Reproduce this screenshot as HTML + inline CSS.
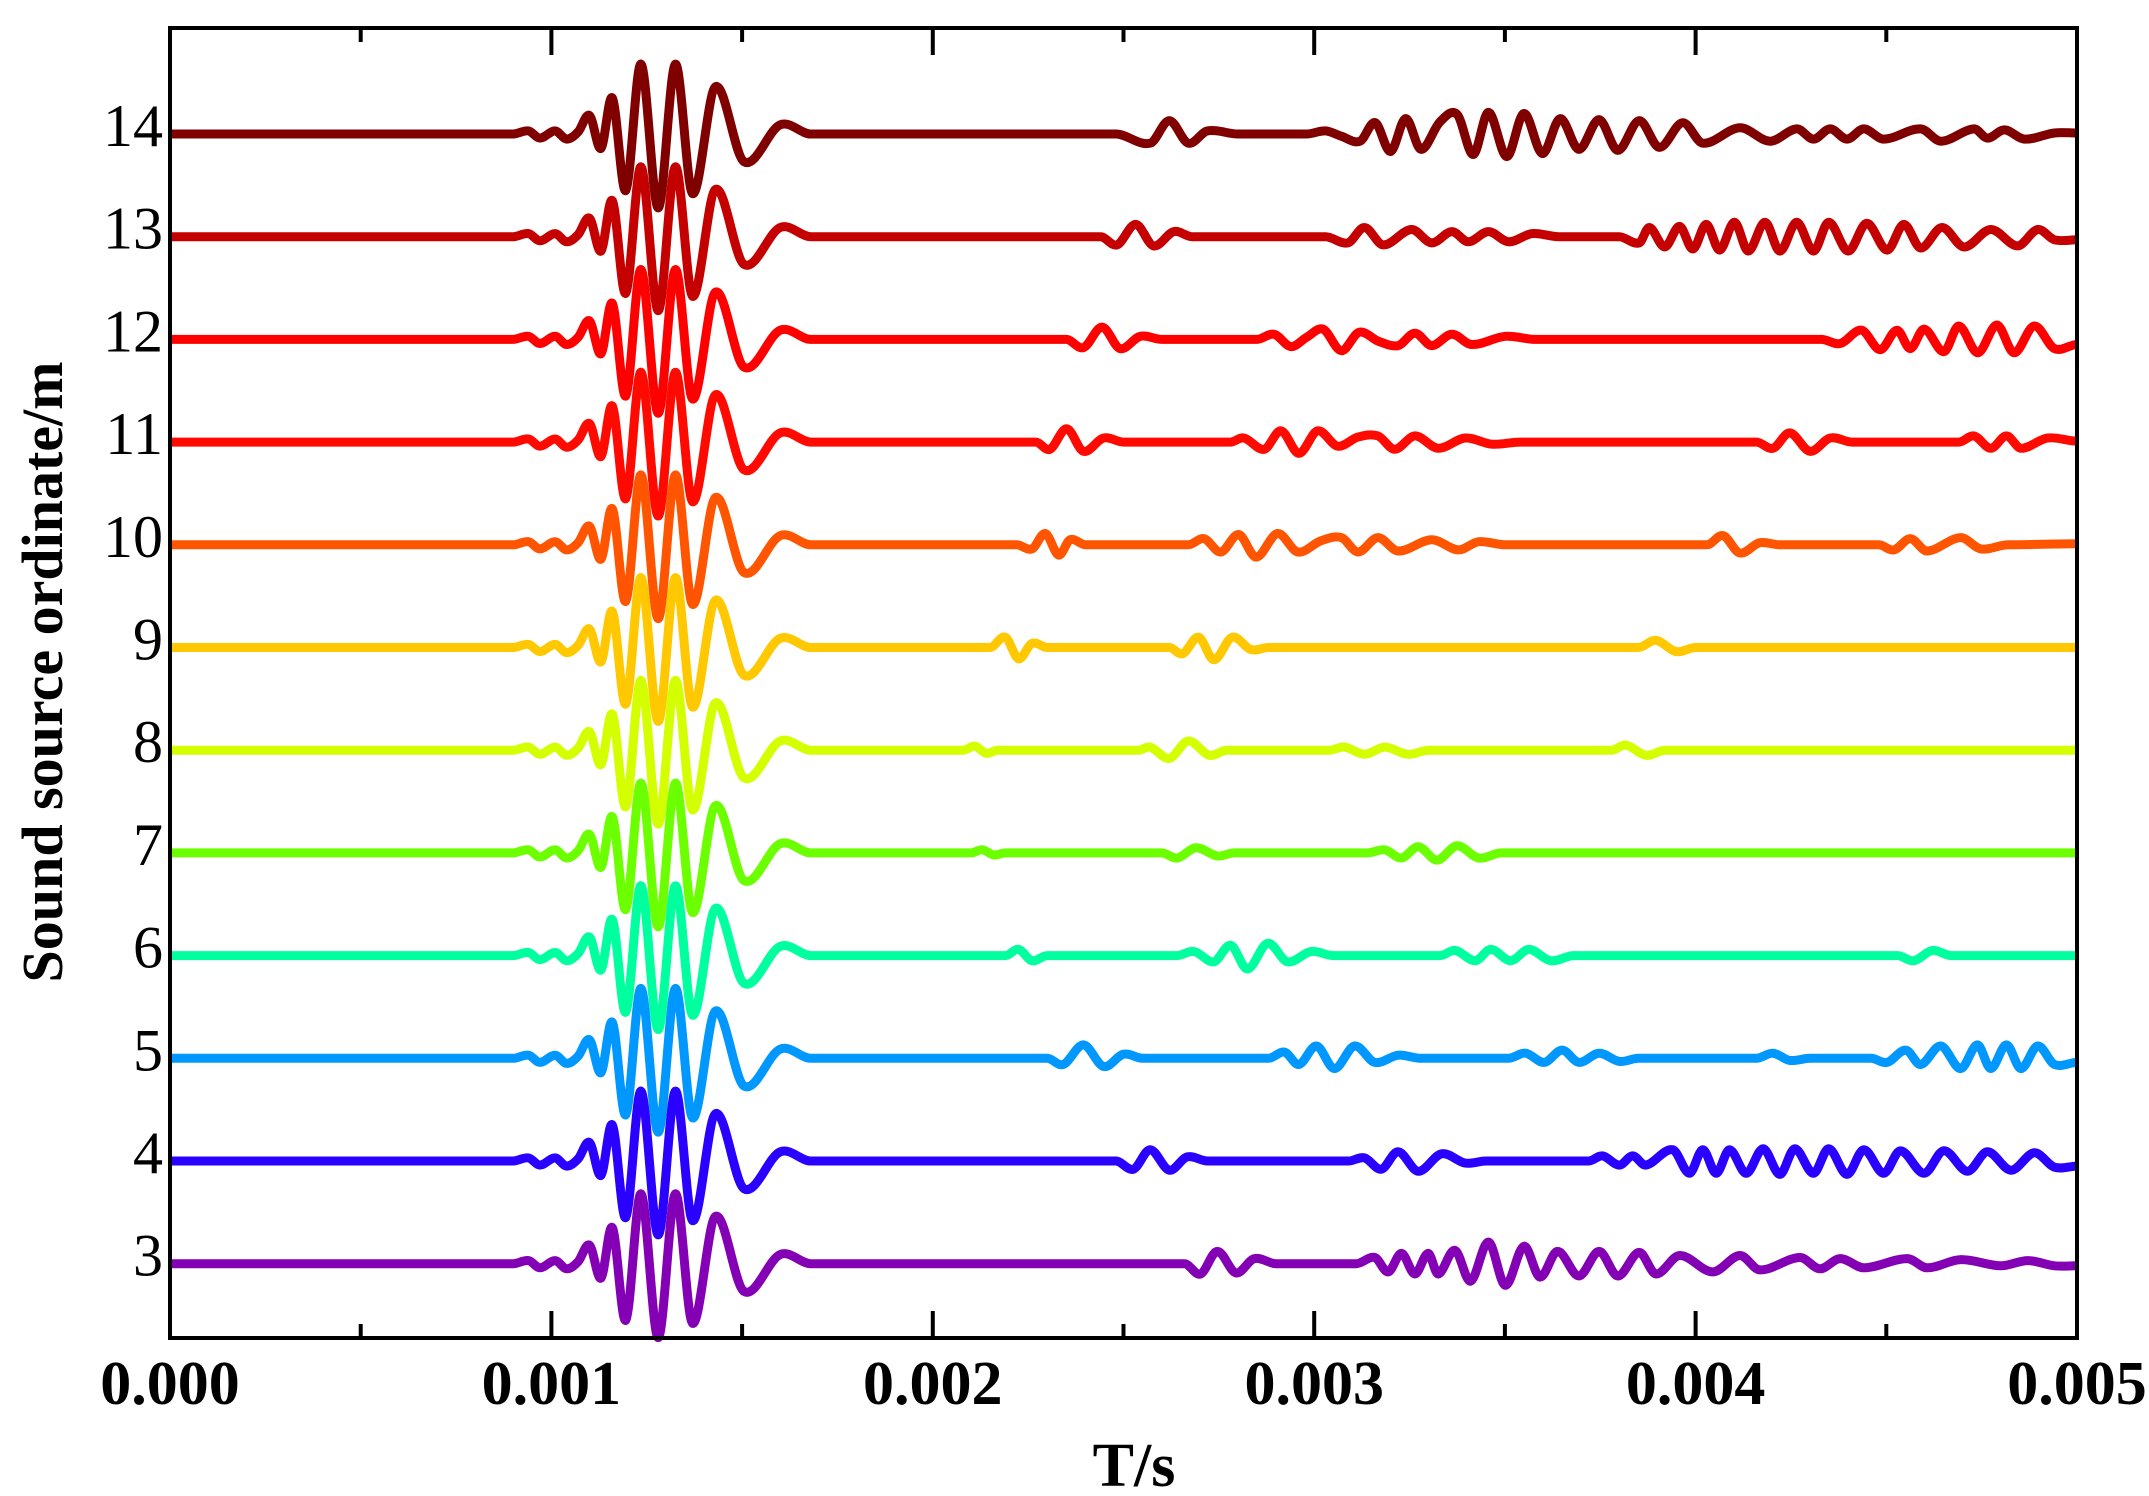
<!DOCTYPE html>
<html><head><meta charset="utf-8"><style>
html,body{margin:0;padding:0;background:#fff}
svg{display:block}
text{font-family:"Liberation Serif","Times New Roman",serif}
</style></head><body>
<svg id="chart" width="2149" height="1496" viewBox="0 0 2149 1496" xmlns="http://www.w3.org/2000/svg">
<g id="traces"></g>
<g id="axes"></g>
</svg>
<script>
// ---- data ----
const traceIds = [14,13,12,11,10,9,8,7,6,5,4,3];
const traceColors = ["#800000","#c40000","#ff0000","#ff0a00","#ff5500","#ffc800","#d4ff00","#6cff00","#00ff9f","#0098ff","#2a00ff","#8400b4"];
// common direct pulse: [t(ms), amplitude in trace-spacing units]
const pulse = [[0.90,0],[0.94,0.03],[0.97,-0.04],[1.01,0.03],[1.04,-0.05],[1.07,0.02],[1.10,0.18],[1.13,-0.14],[1.16,0.35],[1.195,-0.55],[1.235,0.68],[1.28,-0.72],[1.325,0.68],[1.37,-0.58],[1.43,0.46],[1.505,-0.27],[1.60,0.09],[1.68,0]];
// later arrivals per trace
const late14 = [[2.48,0],[2.57,-0.09],[2.62,0.13],[2.67,-0.09],[2.72,0.03],[2.8,0],[2.98,0],[3.03,0.03],[3.07,-0.02],[3.12,-0.07],[3.16,0.11],[3.2,-0.17],[3.24,0.15],[3.28,-0.15],[3.33,0.12],[3.375,0.19],[3.417,-0.2],[3.457,0.21],[3.505,-0.22],[3.55,0.2],[3.598,-0.19],[3.645,0.15],[3.694,-0.15],[3.747,0.14],[3.796,-0.16],[3.852,0.13],[3.905,-0.13],[3.966,0.11],[4.019,-0.09],[4.116,0.06],[4.195,-0.07],[4.265,0.05],[4.309,-0.05],[4.353,0.05],[4.397,-0.05],[4.441,0.05],[4.493,-0.05],[4.59,0.05],[4.643,-0.07],[4.73,0.05],[4.765,-0.04],[4.81,0.04],[4.862,-0.05],[4.941,0.01],[5,0.01]];
const late13 = [[2.44,0],[2.483,-0.08],[2.532,0.12],[2.579,-0.09],[2.632,0.05],[2.68,0],[3.03,0],[3.088,-0.06],[3.132,0.09],[3.181,-0.08],[3.255,0.07],[3.308,-0.06],[3.361,0.05],[3.404,-0.05],[3.457,0.05],[3.51,-0.05],[3.571,0.03],[3.64,0],[3.8,0],[3.852,-0.06],[3.879,0.09],[3.919,-0.1],[3.958,0.1],[3.993,-0.12],[4.028,0.12],[4.063,-0.13],[4.102,0.14],[4.138,-0.14],[4.182,0.14],[4.221,-0.14],[4.265,0.14],[4.309,-0.14],[4.349,0.14],[4.4,-0.14],[4.449,0.13],[4.502,-0.13],[4.546,0.12],[4.59,-0.11],[4.646,0.09],[4.704,-0.1],[4.774,0.07],[4.844,-0.09],[4.897,0.07],[4.941,-0.03],[5,-0.03]];
const late12 = [[2.35,0],[2.395,-0.08],[2.444,0.12],[2.491,-0.09],[2.544,0.03],[2.6,0],[2.85,0],[2.895,0.05],[2.939,-0.07],[2.98,0.02],[3.023,0.1],[3.071,-0.11],[3.118,0.07],[3.17,-0.02],[3.22,-0.06],[3.264,0.06],[3.308,-0.06],[3.361,0.05],[3.413,-0.05],[3.501,0.03],[3.58,0],[4.33,0],[4.379,-0.04],[4.435,0.09],[4.484,-0.1],[4.528,0.09],[4.563,-0.09],[4.599,0.1],[4.651,-0.12],[4.69,0.13],[4.74,-0.13],[4.79,0.14],[4.835,-0.13],[4.888,0.13],[4.941,-0.09],[5,-0.05]];
const late11 = [[2.27,0],[2.307,-0.07],[2.351,0.13],[2.395,-0.09],[2.448,0.04],[2.5,0],[2.78,0],[2.816,0.04],[2.869,-0.07],[2.913,0.11],[2.96,-0.11],[3.009,0.11],[3.062,-0.04],[3.115,0.05],[3.167,0.06],[3.211,-0.07],[3.264,0.06],[3.325,-0.06],[3.396,0.04],[3.466,-0.02],[3.54,0],[4.16,0],[4.203,-0.06],[4.247,0.09],[4.3,-0.09],[4.353,0.04],[4.41,0],[4.69,0],[4.73,0.06],[4.774,-0.06],[4.815,0.06],[4.853,-0.06],[4.923,0.04],[5,0.01]];
const late10 = [[2.22,0],[2.26,-0.04],[2.295,0.11],[2.33,-0.1],[2.36,0.05],[2.4,0],[2.67,0],[2.711,0.06],[2.755,-0.07],[2.802,0.1],[2.848,-0.12],[2.904,0.11],[2.957,-0.07],[3.018,0.04],[3.071,0.07],[3.115,-0.07],[3.167,0.07],[3.22,-0.06],[3.308,0.05],[3.378,-0.05],[3.431,0.03],[3.5,0],[4.03,0],[4.072,0.09],[4.116,-0.08],[4.168,0.02],[4.22,0],[4.48,0],[4.52,-0.05],[4.563,0.06],[4.607,-0.06],[4.695,0.07],[4.748,-0.04],[4.82,0],[5,0.01]];
const late9 = [[2.15,0],[2.19,0.1],[2.225,-0.11],[2.26,0.04],[2.3,0],[2.62,0],[2.655,-0.06],[2.697,0.1],[2.737,-0.12],[2.785,0.1],[2.834,-0.02],[2.88,0],[3.85,0],[3.896,0.07],[3.949,-0.04],[4.0,0],[5,0]];
const late8 = [[2.08,0],[2.11,0.04],[2.14,-0.03],[2.17,0],[2.54,0],[2.57,0.03],[2.62,-0.08],[2.67,0.09],[2.725,-0.05],[2.77,0],[3.04,0],[3.08,0.03],[3.132,-0.04],[3.185,0.03],[3.246,-0.04],[3.3,0],[3.78,0],[3.817,0.05],[3.87,-0.05],[3.92,0],[5,0]];
const late7 = [[2.1,0],[2.13,0.03],[2.16,-0.02],[2.19,0],[2.6,0],[2.641,-0.05],[2.69,0.05],[2.746,-0.03],[2.79,0],[3.14,0],[3.185,0.03],[3.229,-0.05],[3.273,0.06],[3.322,-0.07],[3.375,0.07],[3.431,-0.05],[3.49,0],[5,0]];
const late6 = [[2.19,0],[2.225,0.06],[2.26,-0.05],[2.3,0],[2.64,0],[2.685,0.04],[2.737,-0.06],[2.781,0.1],[2.825,-0.13],[2.878,0.12],[2.93,-0.06],[2.992,0.04],[3.05,0],[3.33,0],[3.37,0.05],[3.422,-0.05],[3.463,0.06],[3.515,-0.05],[3.563,0.06],[3.62,-0.05],[3.68,0],[4.53,0],[4.572,-0.05],[4.621,0.05],[4.67,0],[5,0]];
const late5 = [[2.3,0],[2.342,-0.06],[2.395,0.13],[2.448,-0.08],[2.5,0.04],[2.55,0],[2.88,0],[2.922,0.06],[2.96,-0.06],[3.006,0.12],[3.053,-0.1],[3.106,0.12],[3.159,-0.04],[3.22,0.03],[3.28,0],[3.51,0],[3.554,0.05],[3.603,-0.04],[3.65,0.08],[3.694,-0.04],[3.747,0.05],[3.8,-0.03],[3.85,0],[4.16,0],[4.203,0.05],[4.247,-0.02],[4.3,0],[4.46,0],[4.502,-0.04],[4.551,0.08],[4.59,-0.06],[4.643,0.12],[4.695,-0.1],[4.739,0.13],[4.774,-0.1],[4.815,0.13],[4.853,-0.1],[4.897,0.12],[4.941,-0.06],[5,-0.04]];
const late4 = [[2.48,0],[2.526,-0.08],[2.57,0.11],[2.62,-0.09],[2.667,0.04],[2.72,0],[3.09,0],[3.132,0.03],[3.176,-0.08],[3.22,0.09],[3.273,-0.1],[3.334,0.07],[3.396,-0.02],[3.45,0],[3.72,0],[3.756,0.05],[3.8,-0.04],[3.835,0.05],[3.87,-0.04],[3.94,0.11],[3.984,-0.12],[4.019,0.11],[4.054,-0.12],[4.089,0.11],[4.133,-0.12],[4.177,0.12],[4.221,-0.13],[4.26,0.12],[4.309,-0.12],[4.349,0.12],[4.397,-0.13],[4.441,0.11],[4.493,-0.12],[4.537,0.1],[4.599,-0.12],[4.651,0.1],[4.713,-0.1],[4.765,0.09],[4.827,-0.09],[4.888,0.08],[4.941,-0.06],[5,-0.05]];
const late3 = [[2.66,0],[2.702,-0.1],[2.746,0.12],[2.795,-0.09],[2.843,0.05],[2.9,0],[3.11,0],[3.159,0.06],[3.194,-0.08],[3.229,0.1],[3.264,-0.1],[3.299,0.1],[3.325,-0.1],[3.369,0.13],[3.41,-0.17],[3.457,0.21],[3.501,-0.21],[3.55,0.17],[3.592,-0.13],[3.638,0.12],[3.694,-0.12],[3.747,0.12],[3.796,-0.12],[3.852,0.11],[3.896,-0.1],[3.958,0.08],[4.045,-0.08],[4.116,0.08],[4.168,-0.06],[4.274,0.06],[4.326,-0.05],[4.379,0.05],[4.441,-0.04],[4.555,0.05],[4.607,-0.04],[4.695,0.04],[4.8,-0.02],[4.871,0.03],[4.941,-0.02],[5,-0.02]];
const lateArrivals = [late14,late13,late12,late11,late10,late9,late8,late7,late6,late5,late4,late3];
const xTickValues = [0,0.5,1,1.5,2,2.5,3,3.5,4,4.5,5];
const xTickLabels = ["0.000","0.001","0.002","0.003","0.004","0.005"];
const yTickLabels = ["14","13","12","11","10","9","8","7","6","5","4","3"];

// ---- layout ----
const L=170,R=2077,T=28,B=1338;
const xS = t => L + t/5*(R-L);
const yS = v => 134 + (14-v)*102.7;
const NS="http://www.w3.org/2000/svg";
function mk(tag,attrs,parent){const e=document.createElementNS(NS,tag);for(const k in attrs)e.setAttribute(k,attrs[k]);parent.appendChild(e);return e;}
const gT=document.getElementById('traces'), gA=document.getElementById('axes');

function pathFrom(pts){
  const n=pts.length, m=new Array(n).fill(0), GAP=60;
  for(let i=1;i<n-1;i++){
    const dl=pts[i][0]-pts[i-1][0], dr=pts[i+1][0]-pts[i][0];
    if(dl>GAP||dr>GAP) m[i]=0;
    else m[i]=(pts[i+1][1]-pts[i-1][1])/(pts[i+1][0]-pts[i-1][0]);
  }
  let d="M"+pts[0][0].toFixed(1)+","+pts[0][1].toFixed(1);
  for(let i=0;i<n-1;i++){
    const p1=pts[i],p2=pts[i+1],dx=(p2[0]-p1[0])/3;
    d+="C"+(p1[0]+dx).toFixed(1)+","+(p1[1]+m[i]*dx).toFixed(1)+" "+(p2[0]-dx).toFixed(1)+","+(p2[1]-m[i+1]*dx).toFixed(1)+" "+p2[0].toFixed(1)+","+p2[1].toFixed(1);
  }
  return d;
}
traceIds.forEach((id,i)=>{
  const pts=[[0,0]].concat(pulse,lateArrivals[i]);
  const last=pts[pts.length-1]; if(last[0]<5) pts.push([5,0]);
  const px=pts.map(p=>[xS(p[0]),yS(id+p[1])]);
  const p=mk('path',{d:pathFrom(px),fill:'none',stroke:traceColors[i],'stroke-width':9,'stroke-linejoin':'round','stroke-linecap':'butt'},gT);
  
  
});
// frame
const fr=mk('rect',{x:L,y:T,width:R-L,height:B-T,fill:'none',stroke:'#000','stroke-width':4},gA);


xTickValues.forEach((v,i)=>{
  const len=(i%2===0)?27:14, x=xS(v);
  const t1=mk('line',{x1:x,y1:B,x2:x,y2:B-len,stroke:'#000','stroke-width':4},gA);
  
  
  const t2=mk('line',{x1:x,y1:T,x2:x,y2:T+len,stroke:'#000','stroke-width':4},gA);
  
  
});
xTickLabels.forEach((s,i)=>{
  const t=mk('text',{x:xS(i),y:1404,'font-size':62,'font-weight':'bold','text-anchor':'middle'},gA);
  t.textContent=s;
  
  
});
yTickLabels.forEach((s,i)=>{
  const t=mk('text',{x:163,y:yS(traceIds[i])+12,'font-size':60,'text-anchor':'end'},gA);
  t.textContent=s;
  
  
});
const xt=mk('text',{x:1134,y:1486,'font-size':62,'font-weight':'bold','text-anchor':'middle'},gA);
xt.textContent="T/s";


const yt=mk('text',{x:0,y:0,'font-size':58,'font-weight':'bold','text-anchor':'middle',transform:'translate(62,672) rotate(-90)'},gA);
yt.textContent="Sound source ordinate/m";


</script>
</body></html>
